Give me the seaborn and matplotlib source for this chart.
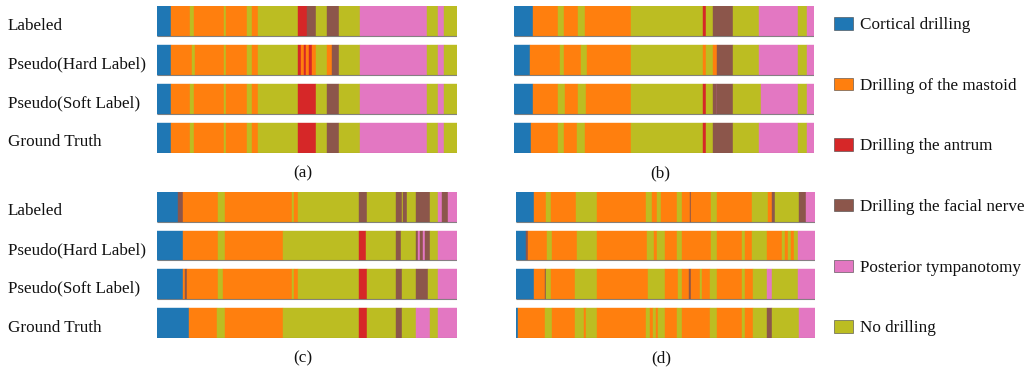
import matplotlib
matplotlib.use("Agg")
import matplotlib.pyplot as plt
from matplotlib.patches import Patch
from matplotlib.transforms import ScaledTranslation
import seaborn as sns

# Phase codes and names
phase_codes = ["C", "M", "A", "F", "P", "N"]
phase_names = [
    "Cortical drilling",
    "Drilling of the mastoid",
    "Drilling the antrum",
    "Drilling the facial nerve",
    "Posterior tympanotomy",
    "No drilling",
]
row_names = ["Labeled", "Pseudo(Hard Label)", "Pseudo(Soft Label)", "Ground Truth"]
panel_tags = ["(a)", "(b)", "(c)", "(d)"]

# Segments per row: (phase code, end of segment in % of video length)
a_labeled = [("C", 4.6), ("M", 11.0), ("N", 12.4), ("M", 22.3), ("N", 23.0), ("M", 30.1),
             ("N", 31.6), ("M", 33.8), ("N", 47.1), ("A", 49.9), ("F", 52.9), ("N", 56.8),
             ("F", 60.7), ("N", 67.7), ("P", 90.1), ("N", 93.6), ("P", 95.7), ("N", 100.0)]
a_hard = [("C", 4.6), ("M", 11.6), ("N", 12.7), ("M", 22.3), ("N", 23.0), ("M", 30.1),
          ("N", 31.6), ("M", 33.8), ("N", 47.1), ("A", 48.0), ("M", 49.0), ("A", 49.7),
          ("M", 50.7), ("A", 51.8), ("M", 52.9), ("N", 56.8), ("M", 58.2), ("F", 60.7),
          ("N", 67.7), ("P", 90.1), ("N", 93.6), ("P", 95.7), ("N", 100.0)]
a_soft = [("C", 4.6), ("M", 11.0), ("N", 12.4), ("M", 22.3), ("N", 23.0), ("M", 30.1),
          ("N", 31.6), ("M", 33.8), ("N", 47.1), ("A", 52.9), ("N", 56.8), ("F", 60.7),
          ("N", 67.7), ("P", 90.1), ("N", 93.6), ("P", 95.7), ("N", 100.0)]
a_truth = [("C", 4.6), ("M", 10.8), ("N", 12.4), ("M", 22.3), ("N", 23.0), ("M", 29.9),
           ("N", 31.6), ("M", 33.8), ("N", 47.1), ("A", 52.9), ("N", 56.8), ("F", 60.7),
           ("N", 67.7), ("P", 90.1), ("N", 93.6), ("P", 95.7), ("N", 100.0)]

b_labeled = [("C", 6.3), ("M", 14.5), ("N", 16.6), ("M", 21.3), ("N", 23.6), ("M", 39.1),
             ("N", 62.8), ("A", 63.9), ("N", 66.3), ("F", 73.0), ("N", 81.7), ("P", 94.7),
             ("N", 97.5), ("P", 100.0)]
b_hard = [("C", 5.2), ("M", 15.2), ("N", 16.6), ("M", 22.1), ("N", 24.1), ("M", 39.1),
          ("N", 62.8), ("M", 63.9), ("N", 66.3), ("M", 67.5), ("F", 73.0), ("N", 81.7),
          ("P", 94.7), ("N", 97.8), ("P", 100.0)]
b_soft = [("C", 6.1), ("M", 14.5), ("N", 16.9), ("M", 21.3), ("N", 23.9), ("M", 39.1),
          ("N", 62.8), ("A", 63.9), ("N", 66.3), ("F", 67.5), ("P", 67.8), ("F", 73.0),
          ("N", 82.2), ("P", 94.7), ("N", 97.5), ("P", 100.0)]
b_truth = [("C", 5.5), ("M", 14.5), ("N", 16.6), ("M", 20.8), ("N", 23.6), ("M", 39.1),
           ("N", 62.8), ("A", 63.9), ("N", 66.3), ("F", 73.0), ("N", 81.7), ("P", 94.7),
           ("N", 97.5), ("P", 100.0)]

c_labeled = [("C", 7.0), ("F", 8.5), ("M", 20.4), ("N", 22.6), ("M", 44.9), ("N", 45.7),
             ("M", 47.1), ("N", 67.5), ("F", 69.9), ("N", 79.6), ("F", 81.6), ("N", 82.0),
             ("F", 83.5), ("N", 86.4), ("F", 91.1), ("N", 93.9), ("P", 95.0), ("F", 97.2),
             ("P", 100.0)]
c_hard = [("C", 8.5), ("M", 20.4), ("N", 22.6), ("M", 42.1), ("N", 67.5), ("A", 69.7),
          ("N", 79.6), ("F", 81.4), ("N", 86.4), ("F", 87.2), ("P", 87.7), ("F", 88.6),
          ("P", 89.4), ("F", 91.1), ("N", 93.9), ("P", 100.0)]
c_soft = [("C", 8.7), ("M", 9.2), ("F", 10.0), ("M", 20.4), ("N", 21.8), ("M", 44.9),
          ("N", 45.7), ("M", 47.1), ("N", 67.5), ("A", 69.9), ("N", 79.6), ("F", 81.6),
          ("N", 86.4), ("F", 90.5), ("N", 93.9), ("P", 100.0)]
c_truth = [("C", 10.7), ("M", 20.0), ("N", 22.6), ("M", 42.1), ("N", 67.5), ("A", 69.9),
           ("N", 79.6), ("F", 81.6), ("N", 86.4), ("P", 91.1), ("N", 93.9), ("P", 100.0)]

d_labeled = [("C", 6.0), ("M", 10.0), ("N", 11.6), ("M", 20.1), ("N", 27.2), ("M", 43.5),
             ("N", 45.4), ("M", 47.1), ("N", 48.4), ("M", 53.8), ("N", 55.4), ("M", 58.2),
             ("F", 58.4), ("M", 65.1), ("N", 67.3), ("M", 78.9), ("N", 84.4), ("M", 85.5),
             ("F", 86.6), ("N", 94.7), ("F", 97.0), ("P", 100.0)]
d_hard = [("C", 3.3), ("F", 4.1), ("M", 10.3), ("N", 11.9), ("M", 20.3), ("N", 27.2),
          ("M", 43.7), ("N", 46.2), ("M", 47.1), ("N", 49.8), ("M", 53.7), ("N", 55.4),
          ("M", 65.1), ("N", 67.3), ("M", 75.5), ("N", 76.6), ("M", 78.9), ("N", 83.8),
          ("M", 88.9), ("N", 90.0), ("M", 91.0), ("N", 92.0), ("M", 93.0), ("N", 94.4),
          ("P", 100.0)]
d_soft = [("C", 6.0), ("M", 9.7), ("F", 10.0), ("N", 11.6), ("M", 19.7), ("N", 27.2),
          ("M", 44.2), ("N", 49.8), ("M", 54.2), ("N", 55.4), ("M", 57.9), ("F", 58.5),
          ("M", 61.5), ("N", 62.2), ("M", 64.9), ("N", 67.3), ("M", 75.6), ("N", 76.6),
          ("M", 79.2), ("N", 83.8), ("P", 85.5), ("N", 94.4), ("P", 100.0)]
d_truth = [("C", 0.8), ("M", 9.7), ("N", 11.9), ("M", 19.7), ("N", 22.7), ("M", 23.4),
           ("N", 27.2), ("M", 43.5), ("N", 44.8), ("M", 45.7), ("N", 46.8), ("M", 47.6),
           ("N", 49.8), ("M", 53.7), ("N", 55.4), ("M", 64.9), ("N", 67.3), ("M", 75.5),
           ("N", 76.6), ("M", 79.3), ("N", 83.8), ("F", 85.5), ("N", 94.7), ("P", 100.0)]

sns.set_theme(style="white")
plt.rcParams["font.family"] = ["Liberation Serif", "DejaVu Serif"]
FS = 12.3

tab = sns.color_palette("tab10")
phase_colors = dict(zip(phase_codes, [tab[0], tab[1], tab[3], tab[5], tab[6], tab[8]]))

W, H = 1030, 369
fig = plt.figure(figsize=(W / 100, H / 100), dpi=100)

# Panel frames in pixels: left, top, right, bottom
frames = [(157.3, 6, 456.7, 153), (514.3, 6, 814.0, 153),
          (157.3, 191.7, 456.7, 338), (516.0, 191.7, 815.0, 338)]
panels = [
    [a_labeled, a_hard, a_soft, a_truth],
    [b_labeled, b_hard, b_soft, b_truth],
    [c_labeled, c_hard, c_soft, c_truth],
    [d_labeled, d_hard, d_soft, d_truth],
]
BAR_H = 0.77

for k, (frame, rows) in enumerate(zip(frames, panels)):
    l, t, r, b = frame
    ax = fig.add_axes([l / W, 1 - b / H, (r - l) / W, (b - t) / H])
    for i, segs in enumerate(rows):
        start = 0.0
        for code, end in segs:
            ax.barh(i, end - start, left=start, height=BAR_H,
                    color=phase_colors[code], edgecolor=phase_colors[code],
                    linewidth=0.3)
            start = end
        ax.plot([0, 100], [i + BAR_H / 2, i + BAR_H / 2], color="#555555",
                lw=0.8, alpha=0.7, solid_capstyle="butt")
    ax.set_xlim(0, 100)
    ax.set_ylim(3 + BAR_H / 2, -BAR_H / 2)
    ax.set_xticks([])
    for s in ax.spines.values():
        s.set_visible(False)
    if k in (0, 2):
        ax.set_yticks(range(4))
        ax.set_yticklabels(row_names, fontsize=FS, ha="left", color="#111111")
        ax.tick_params(axis="y", length=0, pad=(l - 8) * 0.72)
        shift = ScaledTranslation(0, -2.5 / 100, fig.dpi_scale_trans)
        for lab in ax.get_yticklabels():
            lab.set_transform(lab.get_transform() + shift)
    else:
        ax.set_yticks([])
    ax.text(0.486, -0.136, panel_tags[k], transform=ax.transAxes,
            ha="center", va="center", fontsize=FS, color="#111111")

handles = [Patch(facecolor=phase_colors[c], edgecolor="#444444", linewidth=0.4)
           for c in phase_codes]
fig.legend(handles, phase_names, loc="upper left",
           bbox_to_anchor=(834 / W, 1 - 17 / H), frameon=False,
           fontsize=FS, borderpad=0, borderaxespad=0, labelspacing=2.60,
           handlelength=1.1, handleheight=0.75, handletextpad=0.45,
           labelcolor="#111111")

fig.savefig("out.png", dpi=100)
